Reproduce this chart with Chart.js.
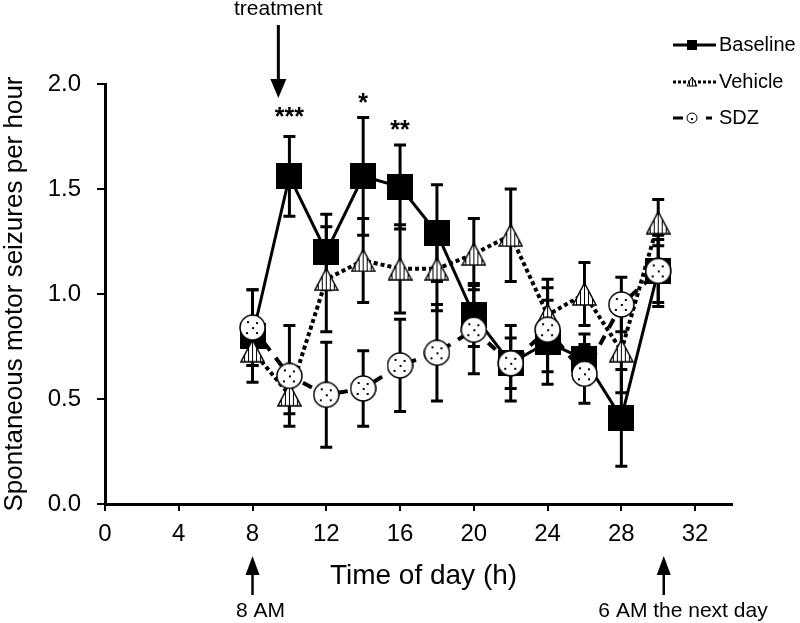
<!DOCTYPE html>
<html>
<head>
<meta charset="utf-8">
<script src="https://cdn.jsdelivr.net/npm/chart.js@4.4.1/dist/chart.umd.min.js"></script>
<style>
  html, body { margin: 0; padding: 0; background: #fff; }
  #c { display: block; }
</style>
</head>
<body>
<canvas id="c" width="800" height="623"></canvas>
<script>
// ---- data ----
const hours = [8, 10, 12, 14, 16, 18, 20, 22, 24, 26, 28, 30];
const baseline    = [0.80, 1.56, 1.20, 1.56, 1.51, 1.29, 0.90, 0.67, 0.77, 0.69, 0.41, 1.11];
const baselineSem = [0.22, 0.19, 0.18, 0.28, 0.20, 0.23, 0.15, 0.12, 0.20, 0.12, 0.23, 0.17];
const vehicle     = [0.73, 0.52, 1.07, 1.16, 1.12, 1.12, 1.19, 1.28, 0.90, 1.00, 0.73, 1.34];
const vehicleSem  = [0.07, 0.09, 0.25, 0.20, 0.21, 0.20, 0.17, 0.22, 0.17, 0.15, 0.20, 0.11];
const sdz         = [0.84, 0.61, 0.52, 0.55, 0.66, 0.72, 0.83, 0.67, 0.83, 0.62, 0.95, 1.11];
const sdzSem      = [0.18, 0.24, 0.25, 0.18, 0.22, 0.23, 0.21, 0.18, 0.20, 0.14, 0.13, 0.15];
const xTicks = [0, 4, 8, 12, 16, 20, 24, 28, 32];
const yTicks = [0.0, 0.5, 1.0, 1.5, 2.0];
const seriesNames = ['Baseline', 'Vehicle', 'SDZ'];
const stars = [ {x: 10, y: 1.86, t: '***'}, {x: 14, y: 1.93, t: '*'}, {x: 16, y: 1.80, t: '**'} ];

const FONT = '"Liberation Sans", Arial, sans-serif';

// ---- marker images ----
function makeSquare(s) {
  const c = document.createElement('canvas'); c.width = s; c.height = s;
  const g = c.getContext('2d'); g.fillStyle = '#000'; g.fillRect(0, 0, s, s);
  return c;
}
function makeTriangle(w, h, step, lw) {
  const c = document.createElement('canvas'); c.width = w; c.height = h;
  const g = c.getContext('2d');
  const p = () => { g.beginPath(); g.moveTo(w / 2, 1); g.lineTo(w - 1, h - 1); g.lineTo(1, h - 1); g.closePath(); };
  p(); g.fillStyle = '#fff'; g.fill();
  g.save(); p(); g.clip();
  g.strokeStyle = '#000'; g.lineWidth = 1;
  const cx = Math.floor(w / 2) + 0.5;
  for (let k = -4; k <= 4; k++) {
    const x = cx + k * step;
    g.beginPath(); g.moveTo(x, 0); g.lineTo(x, h); g.stroke();
  }
  g.restore();
  p(); g.strokeStyle = '#000'; g.lineWidth = lw; g.stroke();
  return c;
}
function makeCircle(s, dots, lw) {
  const c = document.createElement('canvas'); c.width = s; c.height = s;
  const g = c.getContext('2d');
  g.beginPath(); g.arc(s / 2, s / 2, s / 2 - 1, 0, Math.PI * 2);
  g.fillStyle = '#fff'; g.fill(); g.strokeStyle = '#000'; g.lineWidth = lw; g.stroke();
  g.fillStyle = '#000';
  dots.forEach(d => g.fillRect(Math.round(d[0] * s) - 1, Math.round(d[1] * s) - 1, 2, 2));
  return c;
}
const sqImg = makeSquare(26);
const triImg = makeTriangle(25, 24, 4, 1.5);
const cirImg = makeCircle(27, [[0.35,0.3],[0.68,0.35],[0.5,0.52],[0.3,0.7],[0.66,0.72]], 1.5);
const sqSmall = makeSquare(10);
const triSmall = makeTriangle(12, 11, 3, 1);
const cirSmall = makeCircle(12, [[0.5,0.55]], 1);

const toPts = arr => hours.map((h, i) => ({ x: h, y: arr[i] }));

// ---- error bars ----
const errorBars = {
  id: 'errorBars',
  beforeDatasetsDraw(chart) {
    const { ctx, scales: { x, y } } = chart;
    const sets = [[baseline, baselineSem], [vehicle, vehicleSem], [sdz, sdzSem]];
    ctx.save();
    ctx.strokeStyle = '#000'; ctx.lineWidth = 3; ctx.lineCap = 'butt';
    sets.forEach(([m, s]) => {
      hours.forEach((h, i) => {
        const px = x.getPixelForValue(h);
        const top = y.getPixelForValue(m[i] + s[i]);
        const bot = y.getPixelForValue(m[i] - s[i]);
        ctx.beginPath(); ctx.moveTo(px, top); ctx.lineTo(px, bot); ctx.stroke();
        ctx.beginPath(); ctx.moveTo(px - 6, top); ctx.lineTo(px + 6, top);
        ctx.moveTo(px - 6, bot); ctx.lineTo(px + 6, bot); ctx.stroke();
      });
    });
    ctx.restore();
  }
};

function arrow(ctx, x, yTail, yTip, headLen, headW) {
  const dir = yTip > yTail ? 1 : -1;
  ctx.beginPath(); ctx.moveTo(x, yTail); ctx.lineTo(x, yTip - dir * headLen); ctx.stroke();
  ctx.beginPath(); ctx.moveTo(x, yTip); ctx.lineTo(x - headW / 2, yTip - dir * headLen);
  ctx.lineTo(x + headW / 2, yTip - dir * headLen); ctx.closePath(); ctx.fill();
}

// ---- annotations, titles, legend ----
const annotations = {
  id: 'annotations',
  afterDraw(chart) {
    const { ctx, scales: { x, y }, chartArea } = chart;
    ctx.save();
    ctx.fillStyle = '#000'; ctx.strokeStyle = '#000';
    // axis titles
    ctx.textAlign = 'center'; ctx.textBaseline = 'middle';
    ctx.font = '28px ' + FONT;
    ctx.fillText('Time of day (h)', (chartArea.left + chartArea.right) / 2 + 5, 576);
    ctx.font = '26px ' + FONT;
    ctx.save();
    ctx.translate(15, (chartArea.top + chartArea.bottom) / 2);
    ctx.rotate(-Math.PI / 2);
    ctx.fillText('Spontaneous motor seizures per hour', 0, 0);
    ctx.restore();
    // treatment
    ctx.font = '21px ' + FONT;
    const tx = x.getPixelForValue(9.4);
    ctx.fillText('treatment', tx, 9);
    ctx.lineWidth = 3;
    arrow(ctx, tx, 25, 98, 19, 16);
    // stars
    ctx.font = 'bold 25px ' + FONT;
    stars.forEach(s => ctx.fillText(s.t, x.getPixelForValue(s.x), y.getPixelForValue(s.y) + 5));
    // bottom arrows
    ctx.lineWidth = 2.5;
    const a8 = x.getPixelForValue(8), a30 = x.getPixelForValue(30.3);
    arrow(ctx, a8, 595, 556, 19, 14);
    arrow(ctx, a30, 595, 556, 19, 14);
    ctx.font = '21px ' + FONT;
    ctx.fillText('8 AM', a8 + 8, 611);
    ctx.fillText('6 AM the next day', 683, 611);
    // legend
    ctx.font = '20px ' + FONT; ctx.textAlign = 'left';
    const lx0 = 673, lx1 = 716, lmx = 692, ltx = 719;
    const rows = [45, 82, 118];
    ctx.lineWidth = 3;
    // Baseline
    ctx.setLineDash([]);
    ctx.beginPath(); ctx.moveTo(lx0, rows[0]); ctx.lineTo(lx1, rows[0]); ctx.stroke();
    ctx.drawImage(sqSmall, lmx - 5, rows[0] - 5);
    ctx.fillText(seriesNames[0], ltx, rows[0]);
    // Vehicle
    ctx.setLineDash([3, 2]);
    ctx.beginPath(); ctx.moveTo(lx0, rows[1]); ctx.lineTo(lx1, rows[1]); ctx.stroke();
    ctx.setLineDash([]);
    ctx.drawImage(triSmall, lmx - 6, rows[1] - 6);
    ctx.fillText(seriesNames[1], ltx, rows[1]);
    // SDZ
    ctx.beginPath(); ctx.moveTo(lx0, rows[2]); ctx.lineTo(lx0 + 10, rows[2]);
    ctx.moveTo(lx1 - 10, rows[2]); ctx.lineTo(lx1 - 4, rows[2]); ctx.stroke();
    ctx.drawImage(cirSmall, lmx - 6, rows[2] - 6);
    ctx.fillText(seriesNames[2], ltx, rows[2]);
    ctx.restore();
  }
};

new Chart(document.getElementById('c').getContext('2d'), {
  type: 'line',
  data: {
    datasets: [
      { label: seriesNames[0], data: toPts(baseline), borderColor: '#000', borderWidth: 3,
        pointStyle: sqImg, pointRadius: 13, clip: false, order: 3, tension: 0 },
      { label: seriesNames[1], data: toPts(vehicle), borderColor: '#000', borderWidth: 4,
        borderDash: [4, 3], pointStyle: triImg, pointRadius: 12, clip: false, order: 2, tension: 0 },
      { label: seriesNames[2], data: toPts(sdz), borderColor: '#000', borderWidth: 4,
        borderDash: [10, 9], pointStyle: cirImg, pointRadius: 13, clip: false, order: 1, tension: 0 }
    ]
  },
  options: {
    responsive: false,
    animation: false,
    events: [],
    layout: { padding: { top: 84, right: 68, left: 0, bottom: 0 } },
    plugins: { legend: { display: false }, tooltip: { enabled: false } },
    scales: {
      x: {
        type: 'linear', min: 0, max: 34,
        afterBuildTicks: s => { s.ticks = xTicks.map(v => ({ value: v })); },
        afterFit: s => { s.height = 119; },
        grid: { drawOnChartArea: false, drawTicks: true, tickLength: 7, color: '#000', lineWidth: 2 },
        border: { color: '#000', width: 3 },
        ticks: { color: '#000', font: { size: 24, family: FONT }, padding: 9, maxRotation: 0, autoSkip: false }
      },
      y: {
        min: 0, max: 2,
        afterBuildTicks: s => { s.ticks = yTicks.map(v => ({ value: v })); },
        afterFit: s => { s.width = 105; },
        grid: { drawOnChartArea: false, drawTicks: true, tickLength: 8, color: '#000', lineWidth: 2 },
        border: { color: '#000', width: 3 },
        ticks: { color: '#000', font: { size: 24, family: FONT }, padding: 16,
                 callback: v => Number(v).toFixed(1) }
      }
    }
  },
  plugins: [errorBars, annotations]
});
</script>
</body>
</html>
